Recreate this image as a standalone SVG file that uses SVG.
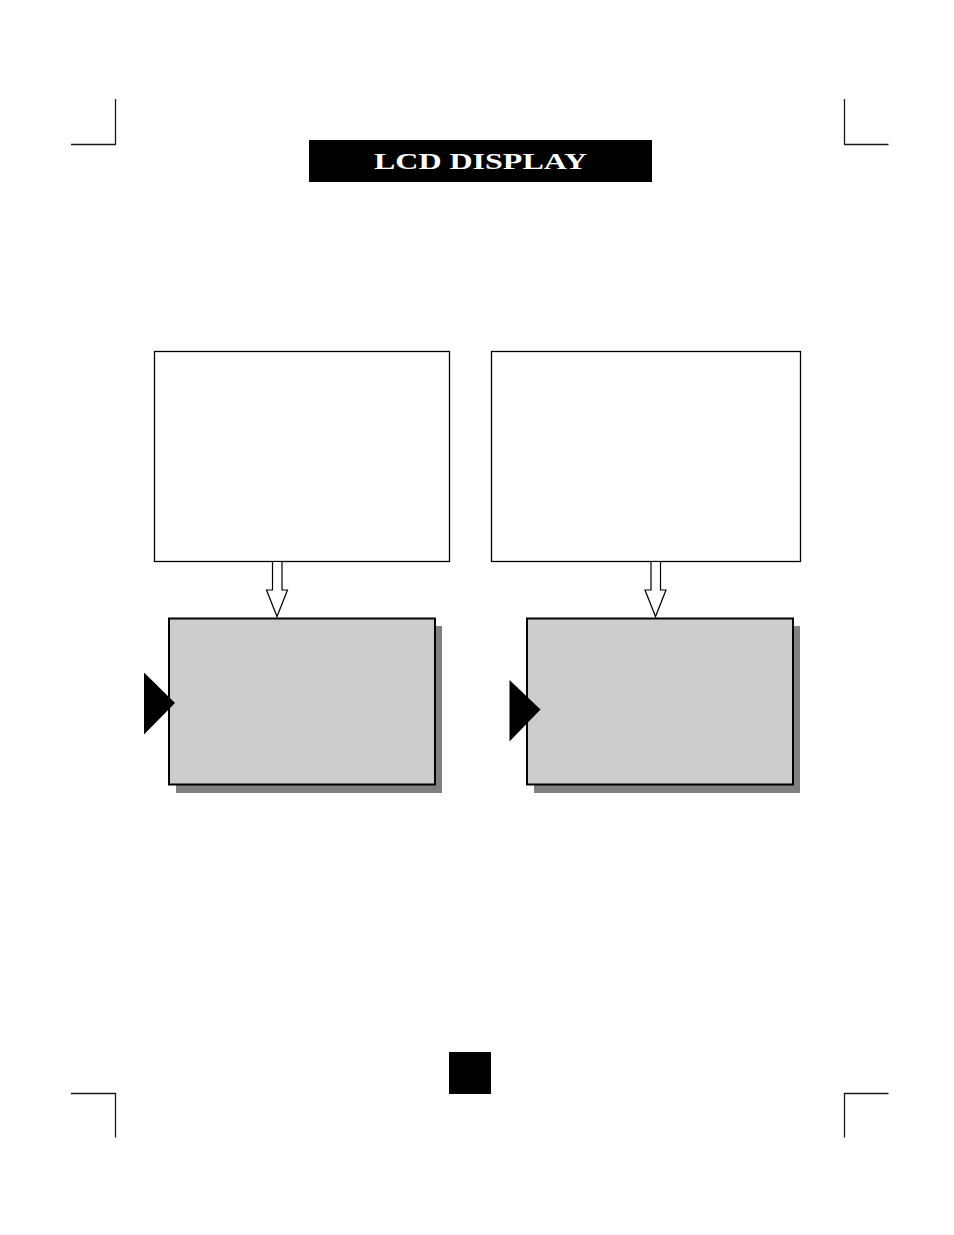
<svg xmlns="http://www.w3.org/2000/svg" width="954" height="1235" viewBox="0 0 954 1235">
<style>
.crop{stroke:#1a1a1a;stroke-width:1.3;fill:none}
.box{fill:#fff;stroke:#000;stroke-width:1.3}
.lcd{fill:#cccccc;stroke:#000;stroke-width:2}
.shadow{fill:#808080}
.flow{fill:#fff;stroke:#000;stroke-width:1.2;stroke-linejoin:miter}
.ptr{fill:#000}
.title{font-family:"Liberation Serif","Times New Roman",serif;font-size:24px;font-weight:bold;fill:#fff}
</style>
<rect width="954" height="1235" fill="#fff"/>
<g id="crop-marks">
<path class="crop" d="M115.5 99V144.5H71"/>
<path class="crop" d="M844.5 99V144.5H888.5"/>
<path class="crop" d="M71 1093.5H115.5V1137.5"/>
<path class="crop" d="M888.5 1093.5H844.5V1137.5"/>
</g>
<g id="title">
<rect x="309" y="140" width="343" height="42" fill="#000"/>
<text class="title" x="374" y="169" textLength="213" lengthAdjust="spacingAndGlyphs">LCD DISPLAY</text>
</g>
<g id="box-left">
<rect class="box" x="154.5" y="351.5" width="295" height="210"/>
</g>
<g id="box-right">
<rect class="box" x="491.5" y="351.5" width="309" height="210"/>
</g>
<g id="lcd-left">
<rect class="shadow" x="176" y="626" width="266" height="167"/>
<rect class="lcd" x="169" y="618.5" width="266" height="166"/>
<polygon class="ptr" points="144,672.5 175,703 144,734.5"/>
</g>
<g id="lcd-right">
<rect class="shadow" x="534" y="626" width="266" height="167"/>
<rect class="lcd" x="527" y="618.5" width="266" height="166"/>
<polygon class="ptr" points="509.5,680 540.5,709.5 509.5,741.5"/>
</g>
<g id="connectors">
<polygon class="flow" points="272.5,561.5 282,561.5 282,590 287.5,590 277,616.5 266.5,590 272.5,590"/>
<polygon class="flow" points="651,561.5 660.5,561.5 660.5,590 666,590 655.5,616.5 645,590 651,590"/>
</g>
<g id="page-number">
<rect x="449" y="1052" width="42" height="42" fill="#000"/>
</g>
</svg>
